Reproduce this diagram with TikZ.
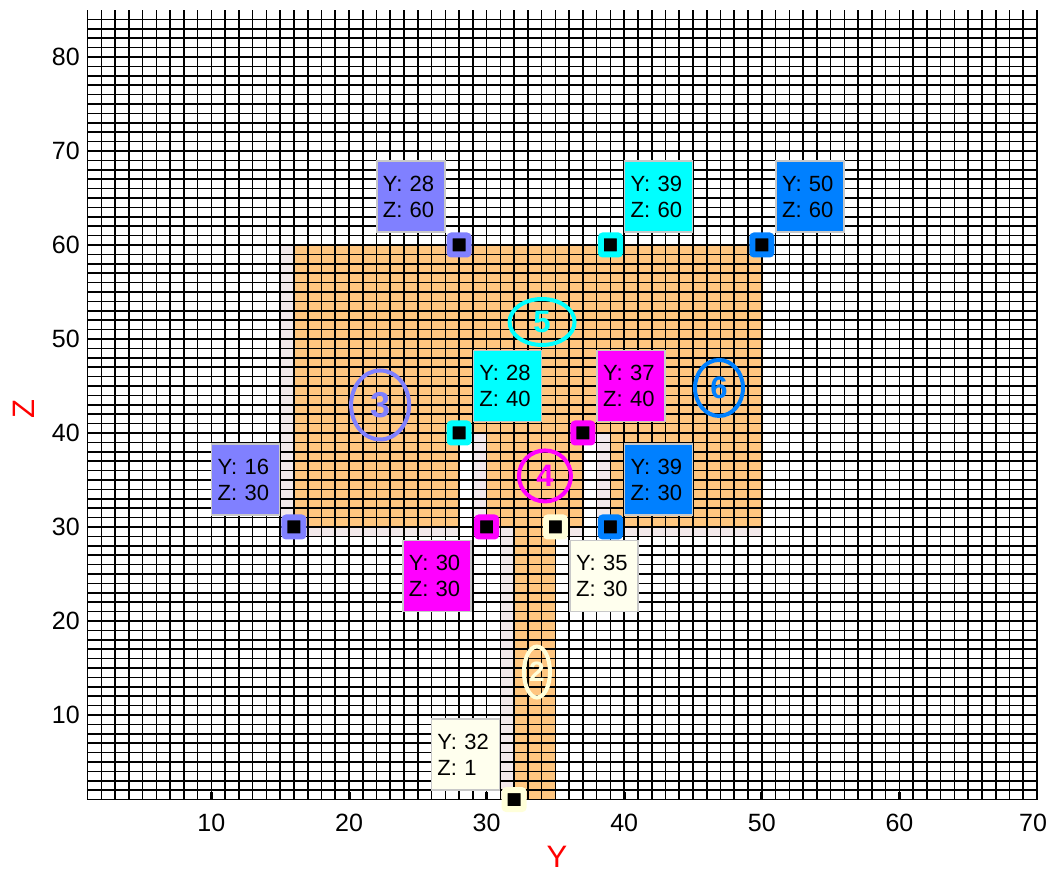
\documentclass[tikz,border=0pt]{standalone}
\usepackage{fontspec}
\setmainfont{Liberation Sans}
\usetikzlibrary{shapes.geometric}
\definecolor{lav}{RGB}{128,128,255}
\definecolor{cyn}{RGB}{0,255,255}
\definecolor{blu}{RGB}{0,128,255}
\definecolor{mag}{RGB}{255,0,255}
\definecolor{crm}{RGB}{255,255,238}
\definecolor{crmdark}{RGB}{255,255,218}
\definecolor{org}{RGB}{255,198,128}
\definecolor{shd}{RGB}{243,233,235}
\definecolor{bordergray}{RGB}{200,200,200}
\begin{document}
\begin{tikzpicture}[x=13.76pt,y=9.4pt,
  gridline/.style={line width=1.6pt,black},
  mk/.style={draw=#1,line width=6pt,fill=black,minimum size=19pt,inner sep=0pt,rounded corners=2pt},
  infobox/.style={fill=#1,draw=bordergray,line width=1.5pt,minimum width=68pt,minimum height=71pt,inner sep=0pt,text width=56pt,align=left,font=\fontsize{22}{26}\selectfont},
  regionlbl/.style={ellipse,draw=#1,text=#1,line width=4pt,inner sep=0pt},
  ticklbl/.style={font=\fontsize{25}{25}\selectfont,text=black,inner sep=0pt},
  axislbl/.style={font=\fontsize{31}{31}\selectfont,text=red,inner sep=0pt}]
\useasboundingbox (-5.3634,-6.9149) rectangle (71.2355,86.0638);
\fill[white] (-5.3634,-6.9149) rectangle (71.2355,86.0638);
% shadows
\fill[shd] (15,29) rectangle (28,60);
\fill[shd] (27,39) rectangle (39,60);
\fill[shd] (38,29) rectangle (50,60);
\fill[shd] (29,29) rectangle (37,40);
\fill[shd] (31,1) rectangle (35,30);
% regions
\fill[org] (16,30) rectangle (28,60);
\fill[org] (28,40) rectangle (39,60);
\fill[org] (39,30) rectangle (50,60);
\fill[org] (30,30) rectangle (37,40);
\fill[org] (32,1) rectangle (35,30);
% grid
\foreach \i in {1,...,70} \draw[gridline] (\i,1) -- (\i,85);
\foreach \j in {1,...,84} \draw[gridline] (1,\j) -- (70,\j);
\foreach \i in {10,20,...,60} \draw[line width=3pt] (\i,1) -- (\i,1.8);
% region labels
\node[regionlbl=lav,minimum width=58pt,minimum height=69pt,font=\bfseries\fontsize{36}{36}\selectfont] (r3) at (22.26,42.98) {3};
\node[regionlbl=cyn,minimum width=65pt,minimum height=46pt,font=\bfseries\fontsize{31}{31}\selectfont] (r5) at (34.03,51.81) {5};
\node[regionlbl=blu,minimum width=48pt,minimum height=56pt,font=\bfseries\fontsize{31}{31}\selectfont] (r6) at (46.89,44.79) {6};
\node[regionlbl=mag,minimum width=52pt,minimum height=51pt,font=\bfseries\fontsize{31}{31}\selectfont] (r4) at (34.24,35.43) {4};
\node[regionlbl=crmdark,minimum width=26pt,minimum height=51pt,font=\bfseries\fontsize{28}{28}\selectfont] (r2) at (33.66,14.57) {2};
% markers
\node[mk=lav] (p1) at (28,60) {};
\node[mk=cyn] (p2) at (39,60) {};
\node[mk=blu] (p3) at (50,60) {};
\node[mk=cyn] (p4) at (28,40) {};
\node[mk=mag] (p5) at (37,40) {};
\node[mk=lav] (p6) at (16,30) {};
\node[mk=mag] (p7) at (30,30) {};
\node[mk=crmdark] (p8) at (35,30) {};
\node[mk=blu] (p9) at (39,30) {};
\node[mk=crmdark] (p10) at (32,1) {};
% info boxes
\node[infobox=lav,anchor=south east] (b1) at ([xshift=-13.5pt,yshift=12pt]p1.center) {Y: 28\\Z: 60};
\node[infobox=cyn,anchor=south west] (b2) at ([xshift=13.5pt,yshift=12pt]p2.center) {Y: 39\\Z: 60};
\node[infobox=blu,anchor=south west] (b3) at ([xshift=13.5pt,yshift=12pt]p3.center) {Y: 50\\Z: 60};
\node[infobox=cyn,anchor=south west] (b4) at ([xshift=13.5pt,yshift=10.5pt]p4.center) {Y: 28\\Z: 40};
\node[infobox=mag,anchor=south west] (b5) at ([xshift=13.5pt,yshift=10.5pt]p5.center) {Y: 37\\Z: 40};
\node[infobox=lav,anchor=south east] (b6) at ([xshift=-13.5pt,yshift=11pt]p6.center) {Y: 16\\Z: 30};
\node[infobox=mag,anchor=north east] (b7) at ([xshift=-15pt,yshift=-13pt]p7.center) {Y: 30\\Z: 30};
\node[infobox=crm,anchor=north west] (b8) at ([xshift=14pt,yshift=-13pt]p8.center) {Y: 35\\Z: 30};
\node[infobox=blu,anchor=south west] (b9) at ([xshift=13.5pt,yshift=11pt]p9.center) {Y: 39\\Z: 30};
\node[infobox=crm,anchor=south east] (b10) at ([xshift=-14pt,yshift=9pt]p10.center) {Y: 32\\Z: 1};
% tick labels
\foreach \v in {10,20,...,60} \node[ticklbl] (ty\v) at (\v,-1.436) {\v};
\node[ticklbl] (ty70) at ([xshift=-4pt]70,-1.436) {70};
\foreach \v in {10,20,...,80} \node[ticklbl,anchor=east] (tz\v) at (0.45,\v) {\v};
% axis labels
\node[axislbl] (ylab) at (35.12,-5.1) {Y};
\node[axislbl,rotate=90] (zlab) at (-3.66,42.55) {Z};
\end{tikzpicture}
\end{document}
